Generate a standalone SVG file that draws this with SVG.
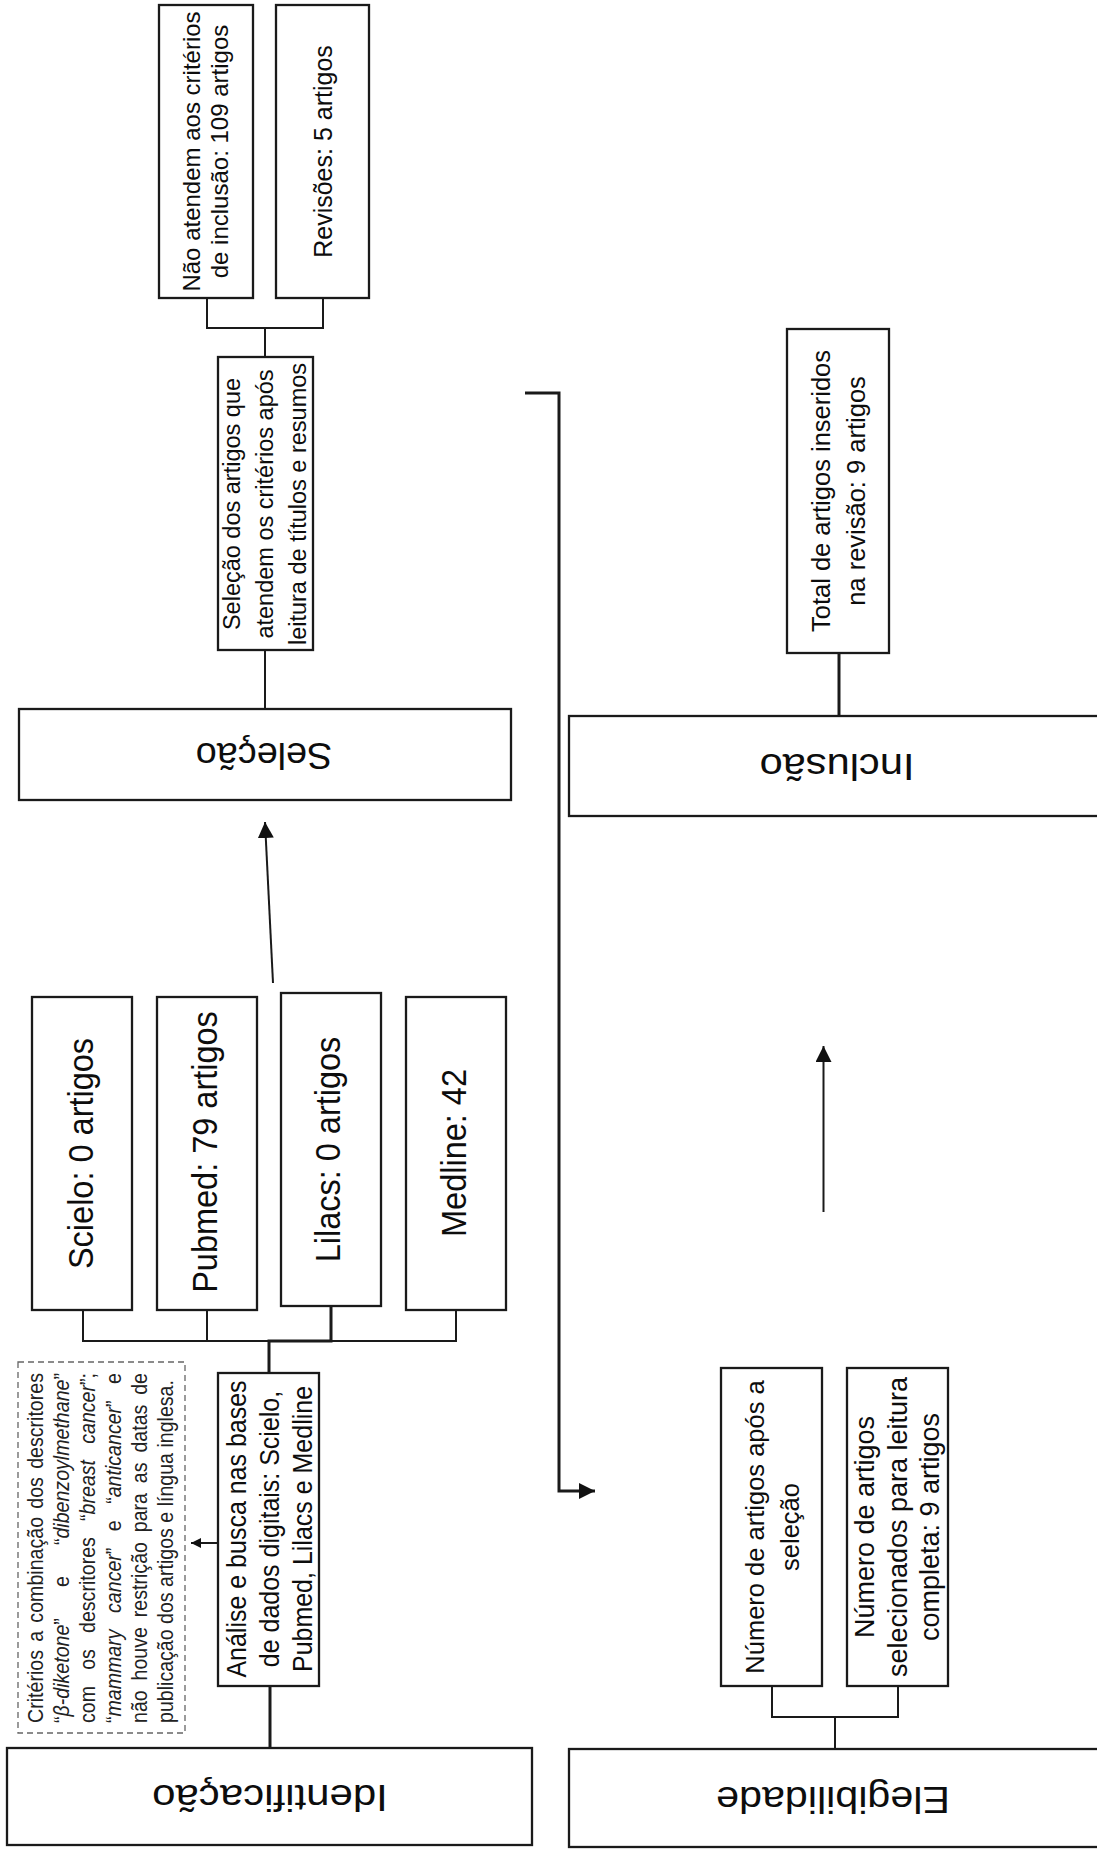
<svg xmlns="http://www.w3.org/2000/svg" width="1097" height="1850" viewBox="0 0 1097 1850">
<style>
.box{fill:#fff;stroke:#1a1a1a;stroke-width:2.3}
.dash{fill:#fff;stroke:#666;stroke-width:1.3;stroke-dasharray:6 4}
.ln{fill:none;stroke:#1a1a1a;stroke-width:2}
.thk{fill:none;stroke:#1a1a1a;stroke-width:3}
.t{font-family:"Liberation Sans",Arial,sans-serif;fill:#0d0d0d;text-anchor:middle}
.d{font-family:"Liberation Sans",Arial,sans-serif;fill:#222;font-size:19.6px;text-anchor:start}
.i{font-style:italic}
</style>
<defs>
<marker id="arr" viewBox="0 0 16 16" refX="16" refY="8" markerWidth="16" markerHeight="16" markerUnits="userSpaceOnUse" orient="auto"><path d="M0,0 L16,8 L0,16 z" fill="#111"/></marker>
<marker id="arrs" viewBox="0 0 10 10" refX="10" refY="5" markerWidth="10" markerHeight="10" markerUnits="userSpaceOnUse" orient="auto"><path d="M0,0 L10,5 L0,10 z" fill="#111"/></marker>
</defs>
<rect width="1097" height="1850" fill="#fff"/>

<g id="connectors">
<path class="ln" d="M207,298 V328 H323 V298"/>
<path class="ln" d="M265,328 V357"/>
<path class="ln" d="M265,650 V709"/>
<path class="ln" d="M273,983 L265,822" marker-end="url(#arr)"/>
<path class="ln" d="M83,1310 V1341 H456 V1310"/>
<path class="ln" d="M207,1310 V1341"/>
<path class="thk" d="M269,1373 V1341 H331 V1306"/>
<path class="thk" d="M270,1686 V1748"/>
<path class="ln" d="M218,1543 H191" marker-end="url(#arrs)"/>
<path class="thk" d="M525,393 H559 V1491 H595" marker-end="url(#arr)"/>
<path class="thk" d="M839,653 V716"/>
<path class="ln" d="M823.5,1212 V1046" marker-end="url(#arr)"/>
<path class="ln" d="M772,1686 V1717 H898 V1686"/>
<path class="ln" d="M835,1717 V1749"/>
</g>

<g id="nao-atendem">
<rect class="box" x="159" y="5" width="94" height="293"/>
<text class="t" font-size="24" transform="matrix(0 -1 1 0 200 151.5)"><tspan x="0" y="0">Não atendem aos critérios</tspan><tspan x="0" y="28">de inclusão: 109 artigos</tspan></text>
</g>
<g id="revisoes">
<rect class="box" x="276" y="5" width="93" height="293"/>
<text class="t" font-size="25" transform="matrix(0 -1 1 0 332 151.5)">Revisões: 5 artigos</text>
</g>
<g id="selecao-artigos">
<rect class="box" x="218" y="357" width="95" height="293"/>
<text class="t" font-size="23.5" transform="matrix(0 -1 1 0 240 504)"><tspan x="0" y="0">Seleção dos artigos que</tspan><tspan x="0" y="33">atendem os critérios após</tspan><tspan x="0" y="66">leitura de títulos e resumos</tspan></text>
</g>
<g id="selecao">
<rect class="box" x="19" y="709" width="492" height="91"/>
<text class="t" font-size="36" transform="matrix(-1.05 0 0 -1 264 743)">Seleção</text>
</g>
<g id="scielo">
<rect class="box" x="32" y="997" width="100" height="313"/>
<text class="t" font-size="32.5" transform="matrix(0 -1 1.07 0 93 1153.5)">Scielo: 0 artigos</text>
</g>
<g id="pubmed">
<rect class="box" x="157" y="997" width="100" height="313"/>
<text class="t" font-size="32.5" transform="matrix(0 -1 1.07 0 217 1152)">Pubmed: 79 artigos</text>
</g>
<g id="lilacs">
<rect class="box" x="281" y="993" width="100" height="313"/>
<text class="t" font-size="32.5" transform="matrix(0 -1 1.07 0 340 1149.5)">Lilacs: 0 artigos</text>
</g>
<g id="medline">
<rect class="box" x="406" y="997" width="100" height="313"/>
<text class="t" font-size="32.5" transform="matrix(0 -1 1.07 0 466 1153)">Medline: 42</text>
</g>
<g id="criterios">
<rect class="dash" x="18" y="1362" width="167" height="371"/>
<text class="d" transform="matrix(0 -1 1.14 0 43 1723)" textLength="350" lengthAdjust="spacing" style="word-spacing:2.8px">Critérios a combinação dos descritores</text>
<text class="d" transform="matrix(0 -1 1.14 0 69 1723)" textLength="350" lengthAdjust="spacing" style="word-spacing:25.6px">“<tspan class="i">β-diketone</tspan>” e “<tspan class="i">dibenzoylmethane</tspan>”</text>
<text class="d" transform="matrix(0 -1 1.14 0 95 1723)" textLength="350" lengthAdjust="spacing" style="word-spacing:10.7px">com os descritores “<tspan class="i">breast cancer</tspan>”;</text>
<text class="d" transform="matrix(0 -1 1.14 0 121 1723)" textLength="350" lengthAdjust="spacing" style="word-spacing:11px">“<tspan class="i">mammary cancer</tspan>” e “<tspan class="i">anticancer</tspan>” e</text>
<text class="d" transform="matrix(0 -1 1.14 0 147 1723)" textLength="350" lengthAdjust="spacing" style="word-spacing:4.4px">não houve restrição para as datas de</text>
<text class="d" transform="matrix(0 -1 1.14 0 173 1723)">publicação dos artigos e língua inglesa.</text>
</g>
<g id="analise">
<rect class="box" x="218" y="1373" width="101" height="313"/>
<text class="t" font-size="25" transform="matrix(0 -1 1.08 0 246 1529)"><tspan x="0" y="0">Análise e busca nas bases</tspan><tspan x="0" y="30.5">de dados digitais: Scielo,</tspan><tspan x="0" y="61">Pubmed, Lilacs e Medline</tspan></text>
</g>
<g id="identificacao">
<rect class="box" x="7" y="1748" width="525" height="97"/>
<text class="t" font-size="37.5" transform="matrix(-1.12 0 0 -1 270 1785)">Identificação</text>
</g>
<g id="total">
<rect class="box" x="787" y="329" width="102" height="324"/>
<text class="t" font-size="25.5" transform="matrix(0 -1 1 0 830 491)"><tspan x="0" y="0">Total de artigos inseridos</tspan><tspan x="0" y="34.5">na revisão: 9 artigos</tspan></text>
</g>
<g id="inclusao">
<rect class="box" x="569" y="716" width="540" height="100"/>
<text class="t" font-size="37.5" transform="matrix(-1.11 0 0 -1 837 754)">Inclusão</text>
</g>
<g id="numero-apos">
<rect class="box" x="721" y="1368" width="101" height="318"/>
<text class="t" font-size="25.5" transform="matrix(0 -1 1 0 764 1527)"><tspan x="0" y="0">Número de artigos após a</tspan><tspan x="0" y="35">seleção</tspan></text>
</g>
<g id="numero-leitura">
<rect class="box" x="847" y="1368" width="101" height="318"/>
<text class="t" font-size="27" transform="matrix(0 -1 1 0 874 1527)"><tspan x="0" y="0">Número de artigos</tspan><tspan x="0" y="32.5">selecionados para leitura</tspan><tspan x="0" y="65">completa: 9 artigos</tspan></text>
</g>
<g id="elegibilidade">
<rect class="box" x="569" y="1749" width="540" height="98"/>
<text class="t" font-size="37.5" transform="matrix(-1.1 0 0 -1 833 1787)">Elegibilidade</text>
</g>
</svg>
